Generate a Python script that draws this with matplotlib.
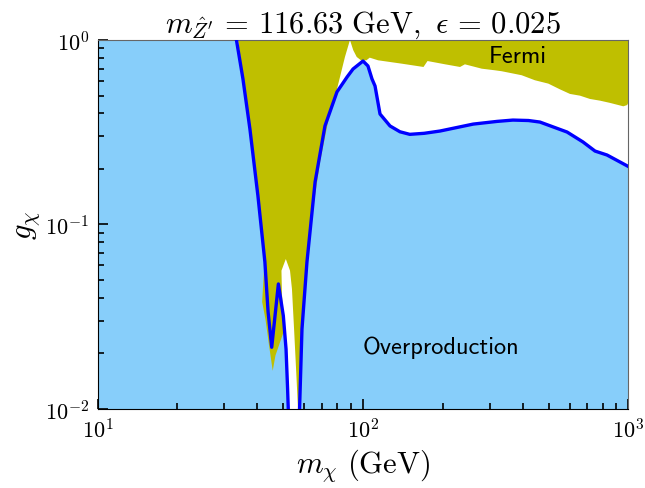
import matplotlib
matplotlib.use('Agg')
import matplotlib.pyplot as plt

plt.rcParams['mathtext.fontset'] = 'cm'
plt.rcParams['font.family'] = 'serif'
plt.rcParams['font.serif'] = ['cmr10']
plt.rcParams['axes.formatter.use_mathtext'] = True

# relic density line (m_chi in GeV, g_chi)
relic_x = [10, 31, 33.4, 35.3, 37.5, 40.2, 42.7, 43.9, 45.3, 48.0, 50.1, 51.3,
           52.0, 52.3, 53.5, 56.5, 57.7, 58.9, 61.5, 66.0, 71.9, 79.8, 87.1,
           91.7, 100, 104.4, 108.1, 111, 115.9, 126.4, 137.8, 150, 170, 195,
           260, 320, 367, 420, 464, 587, 674, 748, 830, 1000]
relic_y = [10.0, 2.0, 0.99, 0.615, 0.329, 0.1427, 0.0626, 0.0336, 0.0216,
           0.0476, 0.032, 0.0211, 0.0128, 0.01, 0.005, 0.005, 0.0102, 0.0271,
           0.0626, 0.170, 0.342, 0.523, 0.630, 0.696, 0.769, 0.723, 0.615,
           0.563, 0.397, 0.342, 0.318, 0.308, 0.312, 0.321, 0.350, 0.362,
           0.368, 0.366, 0.359, 0.317, 0.280, 0.250, 0.238, 0.206]

# Fermi excluded region outline
fermi_x = [33.8, 1000, 1000, 989, 956, 852, 781, 716, 657, 602, 552, 499,
           444, 396, 333, 314, 280, 242, 232, 204, 175, 169, 140, 114, 106,
           103, 98.3, 94.7, 91.9, 89.3, 85.5, 81.9, 79.6, 75.1, 68.9, 63.2,
           59.5, 58.0, 57.7, 57.7, 56.9, 56.9, 56.2, 55.0, 54.0, 53.1, 51.2,
           49.3, 49.5, 50.6, 46.8, 45.7, 44.1, 42.9, 41.7, 42.6, 40.3, 37.6,
           35.4]
fermi_y = [1.0, 1.0, 0.46, 0.444, 0.437, 0.456, 0.469, 0.479, 0.499, 0.510,
           0.54, 0.580, 0.605, 0.644, 0.677, 0.685, 0.699, 0.738, 0.714,
           0.738, 0.769, 0.714, 0.744, 0.776, 0.802, 0.776, 0.776, 0.809,
           0.880, 1.0, 0.809, 0.630, 0.534, 0.407, 0.218, 0.0945, 0.0336,
           0.0165, 0.01, 0.009, 0.009, 0.01, 0.01455, 0.0271, 0.0447, 0.0562,
           0.065, 0.0562, 0.042, 0.027, 0.0195, 0.0161, 0.023, 0.0307, 0.038,
           0.065, 0.142, 0.329, 0.615]

fig = plt.figure(figsize=(6.45, 4.89), dpi=100)
ax = fig.add_axes([0.1512, 0.1616, 0.8232, 0.7546])

ax.fill_between(relic_x, 1e-3, relic_y, color='lightskyblue', lw=0, zorder=1)
ax.fill(fermi_x, fermi_y, color='y', lw=0, zorder=2)
ax.plot(relic_x, relic_y, color='b', lw=2.4, zorder=3)

ax.set_xscale('log')
ax.set_yscale('log')
ax.set_xlim(10, 1000)
ax.set_ylim(0.01, 1)

ax.text(384, 0.82, 'Fermi', fontfamily='cmss10', fontsize=17.5, ha='center', va='center')
ax.text(197, 0.0218, 'Overproduction', fontfamily='cmss10', fontsize=17.5, ha='center', va='center')

ax.set_title(r'$m_{\hat{Z}^{\prime}}\,=\,116.63\ \mathrm{GeV},\ \epsilon\,=\,0.025$', fontsize=22, pad=5)
ax.set_xlabel(r'$m_\chi\ (\mathrm{GeV})$', fontsize=22, labelpad=3)
ax.set_ylabel(r'$g_\chi$', fontsize=22, labelpad=2)

ax.tick_params(which='both', direction='in', top=False, right=False, labelsize=16, pad=6)
ax.tick_params(which='major', length=7.5, width=1.2)
ax.tick_params(which='minor', length=4.5, width=1.2)
for s in ['top', 'right']:
    ax.spines[s].set_color('0.4')

plt.savefig('out.png', dpi=100)
